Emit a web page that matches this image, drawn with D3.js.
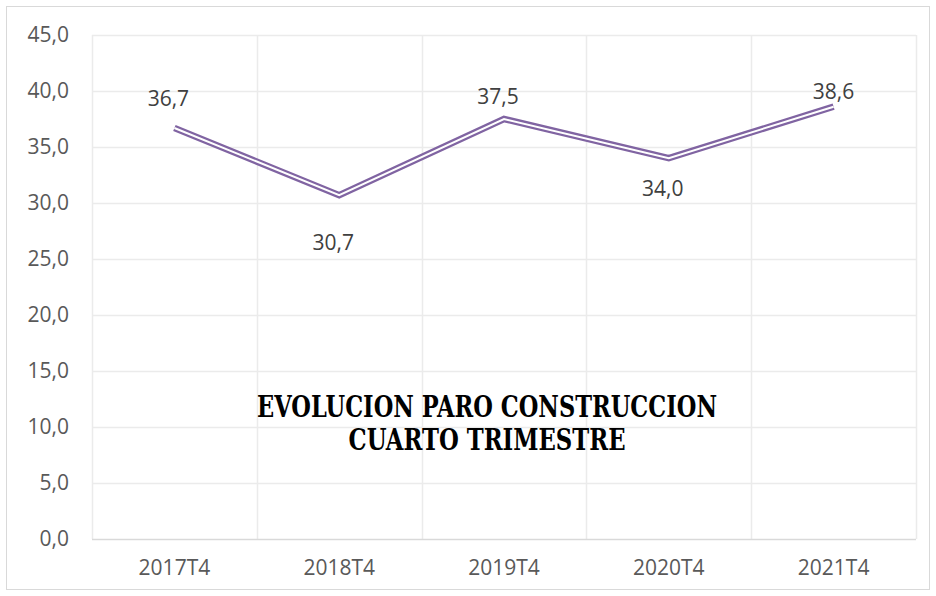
<!DOCTYPE html>
<html><head><meta charset="utf-8">
<script src="https://cdn.jsdelivr.net/npm/d3@7"></script>
<style>body{margin:0;background:#fff}svg{display:block}</style>
</head><body>
<script>
const categories = ["2017T4","2018T4","2019T4","2020T4","2021T4"];
const values = [36.7, 30.7, 37.5, 34.0, 38.6];
const yTicks = [0,5,10,15,20,25,30,35,40,45];
const labelSide = ["above","below","above","below","above"];
const titleLines = ["EVOLUCION PARO CONSTRUCCION","CUARTO TRIMESTRE"];

const W=936,H=596;
const m={left:92,right:916,top:35,bottom:539};
const svg=d3.select("body").append("svg").attr("width",W).attr("height",H);
svg.append("rect").attr("x",6.5).attr("y",6.5).attr("width",W-13).attr("height",H-13)
  .attr("fill","#fff").attr("stroke","#d9d9d9");

const x=d3.scaleBand().domain(categories).range([m.left,m.right]).padding(0);
const y=d3.scaleLinear().domain([0,45]).range([m.bottom,m.top]);
const fmt=v=>d3.format(".1f")(v).replace(".",",");
const FONT="'Open Sans',sans-serif";

// horizontal grid
svg.append("g").selectAll("line").data(yTicks.filter(t=>t>0)).join("line")
  .attr("x1",m.left).attr("x2",m.right)
  .attr("y1",d=>Math.round(y(d))+0.5).attr("y2",d=>Math.round(y(d))+0.5)
  .attr("stroke","#ebebeb").attr("stroke-width",1.5);
// vertical grid at category boundaries
const bounds=categories.map(c=>x(c)).concat([m.right]);
svg.append("g").selectAll("line").data(bounds).join("line")
  .attr("x1",d=>Math.round(d)+0.5).attr("x2",d=>Math.round(d)+0.5)
  .attr("y1",m.top).attr("y2",m.bottom)
  .attr("stroke","#ebebeb").attr("stroke-width",1.5);
// bottom axis line
svg.append("line").attr("x1",m.left).attr("x2",m.right)
  .attr("y1",m.bottom+0.5).attr("y2",m.bottom+0.5).attr("stroke","#d9d9d9").attr("stroke-width",1.5);

// y axis labels
const yAxis=d3.axisLeft(y).tickValues(yTicks).tickFormat(fmt).tickSize(0).tickPadding(0);
const ga=svg.append("g").attr("transform",`translate(69,0)`).call(yAxis);
ga.select(".domain").remove();
ga.selectAll("text").attr("font-family",FONT).attr("font-size",21).attr("fill","#595959");

// x axis labels
const xAxis=d3.axisBottom(x).tickSize(0).tickPadding(0);
const gx=svg.append("g").attr("transform",`translate(0,${m.bottom+21})`).call(xAxis);
gx.select(".domain").remove();
gx.selectAll("text").attr("font-family",FONT).attr("font-size",21).attr("fill","#595959");

// double line
const line=d3.line().x((d,i)=>x(categories[i])+x.bandwidth()/2).y(d=>y(d));
svg.append("path").datum(values).attr("d",line).attr("fill","none")
  .attr("stroke","#8064a2").attr("stroke-width",6.5).attr("stroke-linejoin","miter");
svg.append("path").datum(values).attr("d",line).attr("fill","none")
  .attr("stroke","#fff").attr("stroke-width",2).attr("stroke-linejoin","miter");

// data labels
svg.append("g").selectAll("text").data(values).join("text")
  .attr("x",(d,i)=>x(categories[i])+x.bandwidth()/2 - (i===4?0:6))
  .attr("y",(d,i)=>labelSide[i]==="above"? y(d)-(i===0?22:(i===2?15:8)) : y(d)+(i===1?55:38))
  .attr("text-anchor","middle")
  .attr("font-family",FONT).attr("font-size",21).attr("fill","#404040")
  .text(fmt);

// title
svg.append("g").selectAll("text").data(titleLines).join("text")
  .attr("x",487).attr("y",(d,i)=>417+i*33)
  .attr("text-anchor","middle")
  .attr("font-family","'DejaVu Serif',serif").attr("font-weight","bold")
  .attr("font-size",30).attr("fill","#000")
  .attr("textLength",(d,i)=>i===0?460:277).attr("lengthAdjust","spacingAndGlyphs")
  .text(d=>d);
</script>
</body></html>
